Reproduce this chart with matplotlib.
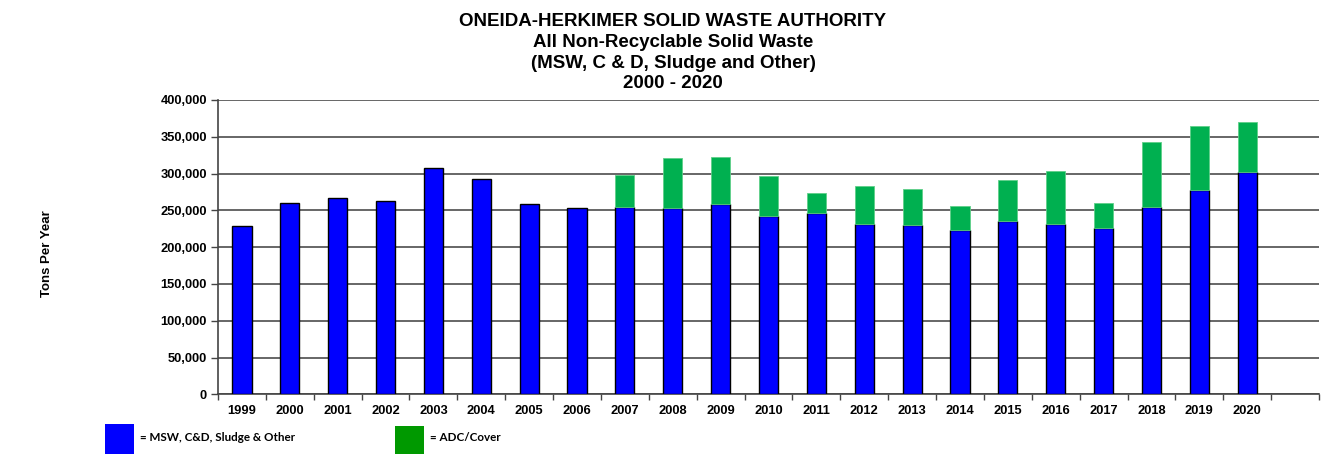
import matplotlib
matplotlib.use("Agg")
import matplotlib.pyplot as plt
from matplotlib.patches import Rectangle
from matplotlib.ticker import FuncFormatter, MultipleLocator

years = ["1999", "2000", "2001", "2002", "2003", "2004", "2005", "2006", "2007", "2008",
         "2009", "2010", "2011", "2012", "2013", "2014", "2015", "2016", "2017", "2018",
         "2019", "2020"]
msw = [229000, 260000, 266500, 262700, 307500, 292300, 258300, 253300, 254100, 253300,
       258600, 242300, 246800, 231900, 230100, 223300, 235500, 231900, 225600, 255000,
       278100, 302100]
total = [229000, 260000, 266500, 262700, 307500, 292300, 258300, 253300, 297600, 320700,
         322500, 296700, 273600, 282700, 279400, 256300, 291200, 303500, 259600, 342900,
         365000, 370500]
adc = [t - m for t, m in zip(total, msw)]

title_lines = ["ONEIDA-HERKIMER SOLID WASTE AUTHORITY",
               "All Non-Recyclable Solid Waste",
               "(MSW, C & D, Sludge and Other)",
               "2000 - 2020"]
ylabel = "Tons Per Year"
legend_labels = ["= MSW, C&D, Sludge & Other", "= ADC/Cover"]

W, H = 1324, 455
fig = plt.figure(figsize=(W / 100, H / 100), dpi=100)
ax = fig.add_axes([218 / W, 1 - 394.3 / H, (1319 - 218) / W, (394.3 - 100) / H])

font = "Liberation Sans"
x = list(range(len(years)))
ax.bar(x, msw, width=0.4, color="#0000FF", edgecolor="black", linewidth=1.0, zorder=3)
gx = [i for i, a in zip(x, adc) if a > 0]
gv = [a for a in adc if a > 0]
gb = [m for m, a in zip(msw, adc) if a > 0]
ax.bar(gx, gv, bottom=gb, width=0.4, color="#00B050", edgecolor="#5fcf88",
       linewidth=0.6, zorder=3)

ax.set_xlim(-0.5, len(years) + 0.5)
ax.set_ylim(0, 400000)
ax.yaxis.set_major_locator(MultipleLocator(50000))
ax.yaxis.set_major_formatter(FuncFormatter(lambda v, p: f"{int(v):,}"))
ax.grid(axis="y", color="#5a5a5a", linewidth=1.3, zorder=0)
ax.set_axisbelow(True)

ax.set_xticks(x)
ax.set_xticklabels(years)
ax.set_xticks([i + 0.5 for i in range(-1, len(years) + 1)], minor=True)
ax.tick_params(axis="x", which="major", length=0, pad=8)
ax.tick_params(axis="x", which="minor", length=4, width=1, color="#444444", direction="out")
ax.tick_params(axis="y", length=5, width=1, color="#444444", direction="out", pad=3)
for lab in ax.get_xticklabels() + ax.get_yticklabels():
    lab.set_fontfamily(font)
    lab.set_fontweight("bold")
    lab.set_fontsize(9.3)

for s in ["right", "top"]:
    ax.spines[s].set_visible(False)
ax.spines["left"].set_color("#444444")
ax.spines["bottom"].set_color("#444444")
ax.spines["left"].set_linewidth(1.2)
ax.spines["bottom"].set_linewidth(1.2)

fig.text(47 / W, 1 - 254 / H, ylabel, rotation=90, ha="center", va="center",
         fontfamily=font, fontweight="bold", fontsize=9.5)

baselines = [26.5, 47.2, 67.8, 88.3]
for t, yy in zip(title_lines, baselines):
    fig.text(673 / W, 1 - yy / H, t, ha="center", va="baseline",
             fontfamily=font, fontweight="bold", fontsize=13.5)

fig.add_artist(Rectangle((105 / W, 1 - 454.3 / H), 29 / W, 30.3 / H,
                         transform=fig.transFigure, facecolor="#0000FF", edgecolor="none"))
fig.add_artist(Rectangle((395 / W, 1 - 454 / H), 29 / W, 28 / H,
                         transform=fig.transFigure, facecolor="#009900", edgecolor="none"))
fig.text(140 / W, 1 - 437.5 / H, legend_labels[0], ha="left", va="center",
         fontfamily="Lato", fontweight="bold", fontsize=8.4)
fig.text(430 / W, 1 - 437.5 / H, legend_labels[1], ha="left", va="center",
         fontfamily="Lato", fontweight="bold", fontsize=8.4)

fig.savefig("out.png", dpi=100)
